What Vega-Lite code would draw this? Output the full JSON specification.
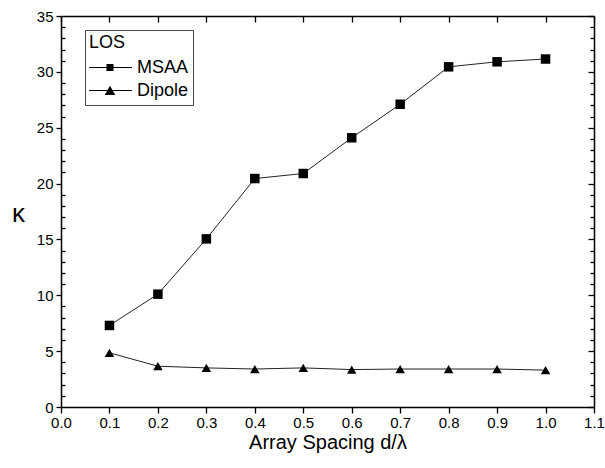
{
  "$schema": "https://vega.github.io/schema/vega-lite/v6.json",
  "width": 533,
  "height": 391,
  "autosize": {"type": "none"},
  "padding": {"left": 61, "top": 16, "right": 11, "bottom": 61},
  "background": "white",
  "config": {
    "view": {"stroke": null},
    "font": "Liberation Sans",
    "axis": {"grid": false, "domainColor": "black", "domainWidth": 1.5, "tickColor": "black", "tickWidth": 1.3, "labelColor": "black", "titleColor": "black", "labelFont": "Liberation Sans", "titleFont": "Liberation Sans", "titleFontWeight": "normal"}
  },
  "data": {"values": [
    {"d": 0.1, "k": 7.3, "series": "MSAA"},
    {"d": 0.2, "k": 10.1, "series": "MSAA"},
    {"d": 0.3, "k": 15.05, "series": "MSAA"},
    {"d": 0.4, "k": 20.45, "series": "MSAA"},
    {"d": 0.5, "k": 20.9, "series": "MSAA"},
    {"d": 0.6, "k": 24.1, "series": "MSAA"},
    {"d": 0.7, "k": 27.1, "series": "MSAA"},
    {"d": 0.8, "k": 30.45, "series": "MSAA"},
    {"d": 0.9, "k": 30.9, "series": "MSAA"},
    {"d": 1.0, "k": 31.15, "series": "MSAA"},
    {"d": 0.1, "k": 4.85, "series": "Dipole"},
    {"d": 0.2, "k": 3.65, "series": "Dipole"},
    {"d": 0.3, "k": 3.5, "series": "Dipole"},
    {"d": 0.4, "k": 3.4, "series": "Dipole"},
    {"d": 0.5, "k": 3.5, "series": "Dipole"},
    {"d": 0.6, "k": 3.35, "series": "Dipole"},
    {"d": 0.7, "k": 3.4, "series": "Dipole"},
    {"d": 0.8, "k": 3.4, "series": "Dipole"},
    {"d": 0.9, "k": 3.4, "series": "Dipole"},
    {"d": 1.0, "k": 3.3, "series": "Dipole"}
  ]},
  "resolve": {"axis": {"x": "independent", "y": "independent"}, "scale": {"shape": "independent"}},
  "layer": [
    {
      "mark": {"type": "line", "color": "#222", "strokeWidth": 1},
      "encoding": {
        "x": {"field": "d", "type": "quantitative", "scale": {"domain": [0, 1.1], "nice": false, "zero": false},
          "axis": {"orient": "bottom", "title": "Array Spacing d/λ", "values": [0, 0.1, 0.2, 0.3, 0.4, 0.5, 0.6, 0.7, 0.8, 0.9, 1.0, 1.1], "format": ".1f", "tickSize": 6, "labelFontSize": 15, "labelPadding": 2, "titleFontSize": 20, "titlePadding": 2, "labelFlush": false, "labelOverlap": false}},
        "y": {"field": "k", "type": "quantitative", "scale": {"domain": [0, 35], "nice": false},
          "axis": {"orient": "left", "title": "κ", "values": [0, 5, 10, 15, 20, 25, 30, 35], "tickSize": 5, "labelFontSize": 15, "labelPadding": 3, "titleAngle": 0, "titleX": -43, "titleY": 197, "titleAlign": "center", "titleBaseline": "middle", "titleFontSize": 26, "labelFlush": false, "labelOverlap": false}},
        "detail": {"field": "series"}
      }
    },
    {
      "mark": {"type": "point", "filled": true, "color": "black", "opacity": 1, "size": 90},
      "encoding": {
        "x": {"field": "d", "type": "quantitative", "scale": {"domain": [0, 1.1], "nice": false, "zero": false},
          "axis": {"orient": "top", "title": null, "values": [], "labels": false, "ticks": false, "domain": true}},
        "y": {"field": "k", "type": "quantitative", "scale": {"domain": [0, 35], "nice": false},
          "axis": {"orient": "right", "title": null, "values": [], "labels": false, "ticks": false, "domain": true}},
        "shape": {"field": "series", "type": "nominal", "scale": {"domain": ["MSAA", "Dipole"], "range": ["square", "triangle-up"]}, "legend": null}
      }
    },
    {
      "mark": {"type": "point", "filled": true, "color": "black", "size": 0},
      "encoding": {
        "x": {"field": "d", "type": "quantitative", "scale": {"domain": [0, 1.1], "nice": false, "zero": false},
          "axis": {"orient": "top", "title": null, "values": [0, 0.1, 0.2, 0.3, 0.4, 0.5, 0.6, 0.7, 0.8, 0.9, 1.0, 1.1], "labels": false, "domain": false, "tickSize": 6, "offset": -6}},
        "y": {"field": "k", "type": "quantitative", "scale": {"domain": [0, 35], "nice": false},
          "axis": {"orient": "right", "title": null, "values": [0, 5, 10, 15, 20, 25, 30, 35], "labels": false, "domain": false, "tickSize": 6, "offset": -6}},
        "shape": {"field": "series", "type": "nominal",
          "scale": {"domain": ["MSAA", "Dipole"], "range": ["M-1,-0.025H1V0.025H-1ZM-0.16,-0.16H0.16V0.16H-0.16Z", "M-1,-0.025H1V0.025H-1ZM0,-0.22L0.24,0.2H-0.24Z"]},
          "legend": {
            "title": "LOS", "orient": "none", "legendX": 24, "legendY": 14,
            "titleFont": "Liberation Sans", "titleFontSize": 18, "titleFontWeight": "normal", "titleColor": "black", "titlePadding": 5,
            "labelFont": "Liberation Sans", "labelFontSize": 18, "labelColor": "black", "labelOffset": 5,
            "symbolSize": 1936, "symbolOffset": -1, "symbolStrokeWidth": 0, "symbolFillColor": "black", "symbolOpacity": 1,
            "clipHeight": 21, "rowPadding": 2, "padding": 4, "strokeColor": "#444", "fillColor": "white"
          }}
      }
    },
    {
      "mark": {"type": "point", "opacity": 0},
      "encoding": {
        "x": {"field": "d", "type": "quantitative", "scale": {"domain": [0, 1.1], "nice": false, "zero": false}, "axis": null},
        "y": {"field": "k", "type": "quantitative", "scale": {"domain": [0, 35], "nice": false},
          "axis": {"orient": "left", "title": null, "values": [1, 2, 3, 4, 6, 7, 8, 9, 11, 12, 13, 14, 16, 17, 18, 19, 21, 22, 23, 24, 26, 27, 28, 29, 31, 32, 33, 34], "labels": false, "domain": false, "tickSize": 4, "offset": -4}}
      }
    },
    {
      "mark": {"type": "point", "opacity": 0},
      "encoding": {
        "x": {"field": "d", "type": "quantitative", "scale": {"domain": [0, 1.1], "nice": false, "zero": false}, "axis": null},
        "y": {"field": "k", "type": "quantitative", "scale": {"domain": [0, 35], "nice": false},
          "axis": {"orient": "right", "title": null, "values": [1, 2, 3, 4, 6, 7, 8, 9, 11, 12, 13, 14, 16, 17, 18, 19, 21, 22, 23, 24, 26, 27, 28, 29, 31, 32, 33, 34], "labels": false, "domain": false, "tickSize": 4, "offset": -4}}
      }
    }
  ]
}
